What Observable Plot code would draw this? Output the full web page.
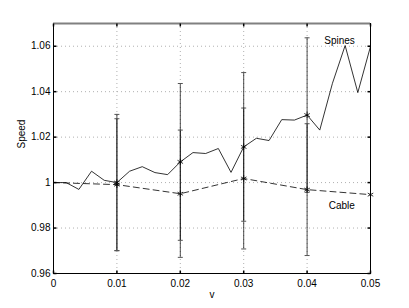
<!DOCTYPE html>
<html><head><meta charset="utf-8">
<script src="https://cdn.jsdelivr.net/npm/d3@7"></script>
<script src="https://cdn.jsdelivr.net/npm/@observablehq/plot@0.6"></script>
<style>body{margin:0;background:#fff} svg{display:block}</style>
</head><body><div id="chart"></div>
<script>
// ---- data ----
const spinesNu = [0,0.002,0.004,0.006,0.008,0.010,0.012,0.014,0.016,0.018,0.020,0.022,0.024,0.026,0.028,0.030,0.032,0.034,0.036,0.038,0.040,0.042,0.044,0.046,0.048,0.050];
const spinesSpeed = [1.000,1.000,0.997,1.005,1.001,1.000,1.005,1.007,1.0044,1.0035,1.0091,1.0132,1.0128,1.015,1.0045,1.0157,1.0195,1.0185,1.0277,1.0275,1.0297,1.0231,1.0437,1.0603,1.0396,1.0599];
const cableNu = [0,0.01,0.02,0.03,0.04,0.05];
const cableSpeed = [1.000,0.9991,0.9951,1.0018,0.9969,0.9947];
const errNu = [0.01,0.02,0.03,0.04];
const spinesErr = [0.030,0.0345,0.0327,0.034];
const cableErr = [0.029,0.028,0.031,0.029];
const spinesStarNu = [0.01,0.02,0.03,0.04];
const cableStarNu = [0.01,0.02,0.03,0.04,0.05];
const xTicks = [0,0.01,0.02,0.03,0.04,0.05];
const yTicks = [0.96,0.98,1,1.02,1.04,1.06];
const seriesNames = ["Spines","Cable"];
const seriesLabelNu = [0.0427,0.0434];
const seriesLabelSpeed = [1.0626,0.990];
const xLabel = "v";
const yLabel = "Speed";

// ---- tables ----
const spines = spinesNu.map((x,i)=>({x, y: spinesSpeed[i]}));
const cable = cableNu.map((x,i)=>({x, y: cableSpeed[i]}));
const spAt = x => spinesSpeed[spinesNu.findIndex(v=>Math.abs(v-x)<1e-9)];
const caAt = x => cableSpeed[cableNu.findIndex(v=>Math.abs(v-x)<1e-9)];
const errBars = [
  ...errNu.map((x,i)=>({x, lo: spAt(x)-spinesErr[i], hi: spAt(x)+spinesErr[i]})),
  ...errNu.map((x,i)=>({x, lo: caAt(x)-cableErr[i], hi: caAt(x)+cableErr[i]}))
];
const caps = errBars.flatMap(d=>[{x:d.x,y:d.lo},{x:d.x,y:d.hi}]);
const stars = [
  ...spinesStarNu.map(x=>({x, y: spAt(x)})),
  ...cableStarNu.map(x=>({x, y: caAt(x)}))
];
const labels = seriesNames.map((t,i)=>({t, x: seriesLabelNu[i], y: seriesLabelSpeed[i]}));

// ---- custom symbols ----
const capSym = {draw(c){c.moveTo(-2.5,0);c.lineTo(2.5,0);}};
const tUp = {draw(c){c.moveTo(0,0);c.lineTo(0,-3);}};
const tDown = {draw(c){c.moveTo(0,0);c.lineTo(0,3);}};
const tRight = {draw(c){c.moveTo(0,0);c.lineTo(3,0);}};
const tLeft = {draw(c){c.moveTo(0,0);c.lineTo(-3,0);}};

const fmtX = d => d === 0 ? "0" : d3.format(".2f")(d);
const fmtY = d => String(+d.toFixed(2));

const chart = Plot.plot({
  width: 409, height: 308,
  marginLeft: 53, marginRight: 39, marginTop: 23, marginBottom: 35,
  x: {domain: [0, 0.05]},
  y: {domain: [0.96, 1.07]},
  style: {fontFamily: "'Liberation Sans', Arial, Helvetica, sans-serif", fontSize: "10px", background: "#fff", color: "#000"},
  marks: [
    Plot.gridX({ticks: xTicks, stroke: "#b0b0b0", strokeOpacity: 1, strokeDasharray: "1,3"}),
    Plot.gridY({ticks: yTicks, stroke: "#b0b0b0", strokeOpacity: 1, strokeDasharray: "1,3"}),
    Plot.ruleX(errBars, {x: "x", y1: "lo", y2: "hi", stroke: "#000", strokeWidth: 0.7}),
    Plot.line(spines, {x: "x", y: "y", stroke: "#000", strokeWidth: 0.8}),
    Plot.line(cable, {x: "x", y: "y", stroke: "#000", strokeWidth: 0.8, strokeDasharray: "6,4"}),
    Plot.dot(caps, {x: "x", y: "y", symbol: capSym, fill: "none", stroke: "#555", strokeWidth: 1}),
    Plot.dot(stars, {x: "x", y: "y", symbol: "asterisk", r: 3, stroke: "#000", strokeWidth: 0.8}),
    Plot.frame({stroke: "#000", strokeWidth: 1}),
    Plot.ruleY([1.07], {stroke: "#808080", strokeWidth: 2}),
    Plot.dot(xTicks, {x: d=>d, frameAnchor: "bottom", symbol: tUp, fill: "none", stroke: "#000"}),
    Plot.dot(xTicks, {x: d=>d, frameAnchor: "top", symbol: tDown, fill: "none", stroke: "#000"}),
    Plot.dot(yTicks, {y: d=>d, frameAnchor: "left", symbol: tRight, fill: "none", stroke: "#000"}),
    Plot.dot(yTicks, {y: d=>d, frameAnchor: "right", symbol: tLeft, fill: "none", stroke: "#000"}),
    Plot.axisX({ticks: xTicks, tickSize: 0, tickPadding: 6, tickFormat: fmtX, label: null, fill: "#000"}),
    Plot.axisY({ticks: yTicks, tickSize: 0, tickPadding: 3, tickFormat: fmtY, label: null, fill: "#000"}),
    Plot.text(labels, {x: "x", y: "y", text: "t", textAnchor: "start", lineAnchor: "middle", fill: "#000", fontSize: 10}),
    Plot.text([xLabel], {frameAnchor: "bottom", dy: 21, lineAnchor: "middle", fill: "#000", fontSize: 10}),
    Plot.text([yLabel], {frameAnchor: "left", dx: -32, rotate: -90, lineAnchor: "middle", fill: "#000", fontSize: 10})
  ]
});
document.getElementById("chart").append(chart);
</script>
</body></html>
